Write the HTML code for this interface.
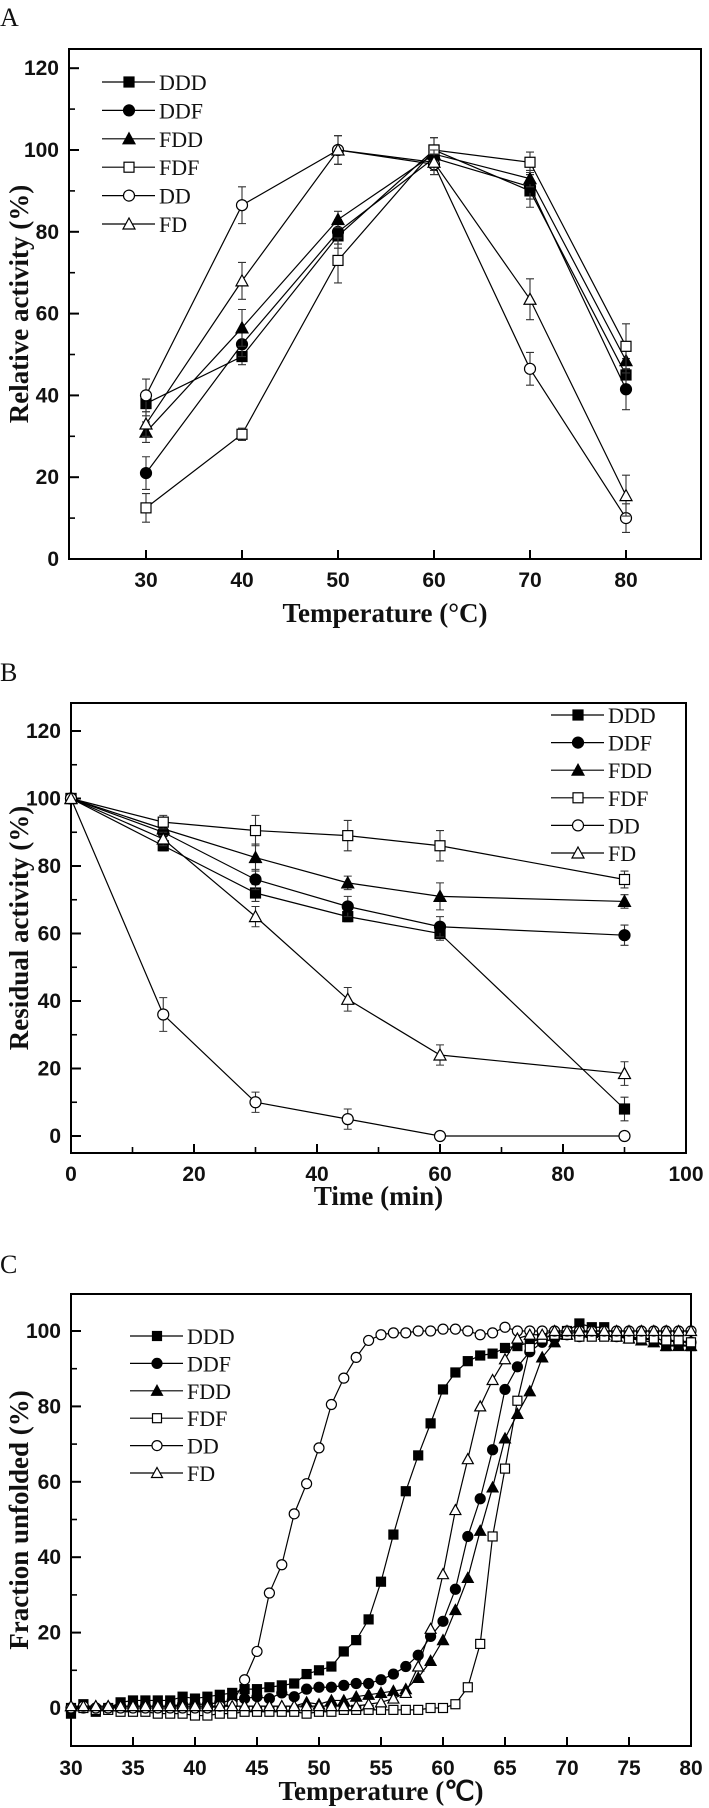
<!DOCTYPE html>
<html><head><meta charset="utf-8">
<style>
html,body{margin:0;padding:0;background:#fff;}
svg{display:block;}
.tk{font-family:"Liberation Sans",Arial,sans-serif;font-weight:bold;font-size:21px;fill:#111;}
.ttl{font-family:"Liberation Serif","Times New Roman",serif;font-weight:bold;font-size:27px;fill:#111;}
.lg{font-family:"Liberation Serif","Times New Roman",serif;font-size:22px;fill:#111;}
.pl{font-family:"Liberation Serif","Times New Roman",serif;font-size:26px;fill:#111;}
</style></head>
<body>
<svg id="fig" width="709" height="1808" viewBox="0 0 709 1808" xmlns="http://www.w3.org/2000/svg"></svg>
<script>
const seriesNames = ["DDD","DDF","FDD","FDF","DD","FD"];
const markerTypes = ["sqf","cirf","trif","sqo","ciro","trio"];

// Panel A
const aTemps = [30,40,50,60,70,80];
const aDDD = [38,49.5,79,100,90,45];
const aDDF = [21,52.5,80,98,91,41.5];
const aFDD = [31,56.5,83,99,93,48.5];
const aFDF = [12.5,30.5,73,100,97,52];
const aDD = [40,86.5,100,96.5,46.5,10];
const aFD = [33,68,100,97,63.5,15.5];
const aErrDDD = [3,2,3,3,4,4];
const aErrDDF = [4,3,3,3,3,5];
const aErrFDD = [2.5,4.5,2,2,2,3];
const aErrFDF = [3.5,1.5,5.5,3,2.5,5.5];
const aErrDD = [4,4.5,3.5,2.5,4,3.5];
const aErrFD = [3,4.5,3.5,3,5,5];
const aXTicks = [30,40,50,60,70,80];
const aYTicks = [0,20,40,60,80,100,120];

// Panel B
const bTimes = [0,15,30,45,60,90];
const bDDD = [100,86,72,65,60,8];
const bDDF = [100,90,76,68,62,59.5];
const bFDD = [100,91,82.5,75,71,69.5];
const bFDF = [100,93,90.5,89,86,76];
const bDD = [100,36,10,5,0,0];
const bFD = [100,88,65,40.5,24,18.5];
const bErrDDD = [0,1.5,2.5,1.5,2,3.5];
const bErrDDF = [0,2,3,3,3,3];
const bErrFDD = [0,2,4,2,4,2];
const bErrFDF = [0,2,4.5,4.5,4.5,2.5];
const bErrDD = [0,5,3,3,0,0];
const bErrFD = [0,2,3,3.5,3,3.5];
const bXTicks = [0,20,40,60,80,100];
const bYTicks = [0,20,40,60,80,100,120];

// Panel C
const cTemps = [30,31,32,33,34,35,36,37,38,39,40,41,42,43,44,45,46,47,48,49,50,51,52,53,54,55,56,57,58,59,60,61,62,63,64,65,66,67,68,69,70,71,72,73,74,75,76,77,78,79,80];
const cDDD = [-1.5,1,-1,0,1.5,2,2,2,2,3,2.5,3,3.5,4,5,5,5.5,6,6.5,9,10,11,15,18,23.5,33.5,46,57.5,67,75.5,84.5,89,92,93.5,94,95.5,96,97,98,99,100,102,101,101,99,98.5,98,97.5,96,96.5,96];
const cDDF = [0,0,0,0,0.5,0.5,0.5,0.5,0.5,1,1,1,1.5,2,2.5,3,2.5,4,3,5,5.5,5.5,6,6.5,6.5,7.5,9,11,14,19,23,31.5,45.5,55.5,68.5,84.5,90.5,94.5,97,98,99,98.5,99,99,98.5,98.5,98,98,97.5,97,97];
const cFDD = [0.5,0.5,0.5,0.5,0.5,0.5,0.5,0.5,0.5,0.5,0.5,0.5,0.5,0.5,0.5,0.5,0.5,0.5,0.5,1.5,1,2,2,3,3.5,4,4.5,5,8,12.5,18,26,34.5,47,58.5,71.5,78,84,93,97,99,100,99.5,99,98.5,98,97.5,97,96,96,96];
const cFDF = [0,0,-0.5,-0.5,-1,-1,-1,-1.5,-1.5,-1.5,-2,-2,-1.5,-1.5,-1,-1,-1,-1,-1,-1.5,-1,-1,-0.5,-0.5,-0.5,-0.5,-0.5,-0.5,-0.5,0,0,1,5.5,17,45.5,63.5,81.5,95.5,98,99,99,98.5,98.5,98.5,98.5,98,98,98,97.5,97.5,97];
const cDD = [0,0.5,0,0,0,0,0,0,0,0,0,0,0.5,1,7.5,15,30.5,38,51.5,59.5,69,80.5,87.5,93,97.5,99,99.5,99.5,100,100,100.5,100.5,100,99,99.5,101,100,100,100,100,100,100,100,100,100,100,100,100,100,100,100];
const cFD = [0.5,0.5,0.5,0.5,0.5,0.5,0.5,0.5,0.5,0.5,0.5,0.5,0.5,0.5,0.5,0.5,0.5,0.5,0.5,0.5,0.5,0.5,0.5,0.5,1,1.5,2.5,4,11,21,35.5,52.5,66,80,87,92.5,98,99,99,100,100,100,100,100,100,100,100,100,100,100,100];
const cXTicks = [30,35,40,45,50,55,60,65,70,75,80];
const cYTicks = [0,20,40,60,80,100];

const NS = "http://www.w3.org/2000/svg";
const svg = document.getElementById("fig");
function mk(tag, attrs, parent){
  const e = document.createElementNS(NS, tag);
  for (const k in attrs) e.setAttribute(k, attrs[k]);
  (parent||svg).appendChild(e);
  return e;
}
function marker(g, type, x, y, s){
  const h = s/2;
  const fill = type.endsWith("f") ? "#000" : "#fff";
  let e;
  if (type.startsWith("sq")) e = mk("rect",{x:x-h,y:y-h,width:s,height:s,fill:fill,stroke:"#000","stroke-width":1.2},g);
  else if (type.startsWith("cir")) e = mk("circle",{cx:x,cy:y,r:h+0.5,fill:fill,stroke:"#000","stroke-width":1.2},g);
  else e = mk("polygon",{points:`${x},${y-h-1} ${x+h+1},${y+h} ${x-h-1},${y+h}`,fill:fill,stroke:"#000","stroke-width":1.2},g);
  
  
  return e;
}

function panel(cfg){
  const X = v => cfg.x0 + (v - cfg.xv0) * cfg.xs;
  const Y = v => cfg.y0 - v * cfg.ys;
  const g = mk("g",{});
  
  
  const lbl = mk("text",{x:0,y:cfg.labelY,class:"pl"},g);
  lbl.textContent = cfg.label;
  
  
  const box = mk("rect",{x:cfg.L,y:cfg.T,width:cfg.R-cfg.L,height:cfg.B-cfg.T,fill:"none",stroke:"#000","stroke-width":2},g);
  
  
  cfg.yTicks.forEach(v=>{
    const y = Y(v);
    const t = mk("line",{x1:cfg.L,x2:cfg.L+10,y1:y,y2:y,stroke:"#000","stroke-width":2},g);
    
    
    const tx = mk("text",{x:cfg.L-10,y:y+7,class:"tk","text-anchor":"end"},g);
    tx.textContent = v;
    
    
  });
  for (let i=0;i<cfg.yTicks.length-1;i++){
    const y = Y((cfg.yTicks[i]+cfg.yTicks[i+1])/2);
    mk("line",{x1:cfg.L,x2:cfg.L+6,y1:y,y2:y,stroke:"#000","stroke-width":1.6},g);
  }
  cfg.xTicks.forEach(v=>{
    const x = X(v);
    const t = mk("line",{x1:x,x2:x,y1:cfg.B,y2:cfg.B-9,stroke:"#000","stroke-width":2},g);
    
    
    const tx = mk("text",{x:x,y:cfg.xLabY,class:"tk","text-anchor":"middle"},g);
    tx.textContent = v;
    
    
  });
  if (cfg.xMinor) for (let i=0;i<cfg.xTicks.length-1;i++){
    const x = X((cfg.xTicks[i]+cfg.xTicks[i+1])/2);
    mk("line",{x1:x,x2:x,y1:cfg.B,y2:cfg.B-6,stroke:"#000","stroke-width":1.6},g);
  }
  const xt = mk("text",{x:(cfg.L+cfg.R)/2+cfg.xTitleDx,y:cfg.xTitleY,class:"ttl","text-anchor":"middle"},g);
  xt.textContent = cfg.xTitle;
  
  
  const ym = (cfg.T+cfg.B)/2;
  const yt = mk("text",{x:28,y:ym,class:"ttl","text-anchor":"middle",transform:`rotate(-90 28 ${ym})`},g);
  yt.textContent = cfg.yTitle;
  
  
  cfg.series.forEach((s,si)=>{
    const sg = mk("g",{},g);
    
    
    const pts = cfg.xs_data.map((v,i)=>X(v)+","+Y(s[i])).join(" ");
    const pl = mk("polyline",{points:pts,fill:"none",stroke:"#000","stroke-width":1.2},sg);
    
    
    if (cfg.errs){
      const er = cfg.errs[si];
      cfg.xs_data.forEach((v,i)=>{
        if (!er[i]) return;
        const x=X(v), y1=Y(s[i]+er[i]), y2=Y(s[i]-er[i]);
        const eb = mk("path",{d:`M${x},${y1}V${y2}M${x-4},${y1}H${x+4}M${x-4},${y2}H${x+4}`,stroke:"#333","stroke-width":1.1,fill:"none"},sg);
        
        
      });
    }
    cfg.xs_data.forEach((v,i)=>marker(sg, markerTypes[si], X(v), Y(s[i]), cfg.ms));
  });
  const lg = mk("g",{},g);
  
  
  seriesNames.forEach((n,i)=>{
    const y = cfg.legY0 + i*cfg.legDy;
    const eg = mk("g",{},lg);
    
    
    mk("line",{x1:cfg.legX,x2:cfg.legX+53,y1:y,y2:y,stroke:"#000","stroke-width":1.2},eg);
    marker(eg, markerTypes[i], cfg.legX+27, y, cfg.ms);
    const t = mk("text",{x:cfg.legX+57,y:y+8,class:"lg"},eg);
    t.textContent = n;
  });
}

panel({name:"panel-a-temperature-activity",label:"A",labelY:26,
  L:69,R:701,T:49,B:559,x0:146,xv0:30,xs:9.6,y0:559,ys:4.09,
  xTicks:aXTicks,yTicks:aYTicks,xMinor:false,xLabY:587,
  xTitle:"Temperature (\u00B0C)",xTitleDx:0,xTitleY:622,yTitle:"Relative activity (%)",
  xs_data:aTemps,series:[aDDD,aDDF,aFDD,aFDF,aDD,aFD],
  errs:[aErrDDD,aErrDDF,aErrFDD,aErrFDF,aErrDD,aErrFD],ms:10,
  legX:102,legY0:82,legDy:28.4});

panel({name:"panel-b-thermostability",label:"B",labelY:681,
  L:71,R:686,T:703,B:1153,x0:71,xv0:0,xs:6.15,y0:1136,ys:3.375,
  xTicks:bXTicks,yTicks:bYTicks,xMinor:true,xLabY:1181,
  xTitle:"Time (min)",xTitleDx:0,xTitleY:1205,yTitle:"Residual activity (%)",
  xs_data:bTimes,series:[bDDD,bDDF,bFDD,bFDF,bDD,bFD],
  errs:[bErrDDD,bErrDDF,bErrFDD,bErrFDF,bErrDD,bErrFD],ms:10,
  legX:551,legY0:715,legDy:27.6});

panel({name:"panel-c-unfolding",label:"C",labelY:1273,
  L:71,R:691,T:1294,B:1746,x0:71,xv0:30,xs:12.4,y0:1708,ys:3.77,
  xTicks:cXTicks,yTicks:cYTicks,xMinor:false,xLabY:1775,
  xTitle:"Temperature (\u2103)",xTitleDx:0,xTitleY:1800,yTitle:"Fraction unfolded (%)",
  xs_data:cTemps,series:[cDDD,cDDF,cFDD,cFDF,cDD,cFD],
  errs:null,ms:9,
  legX:130,legY0:1336,legDy:27.4});
</script>
</body></html>
